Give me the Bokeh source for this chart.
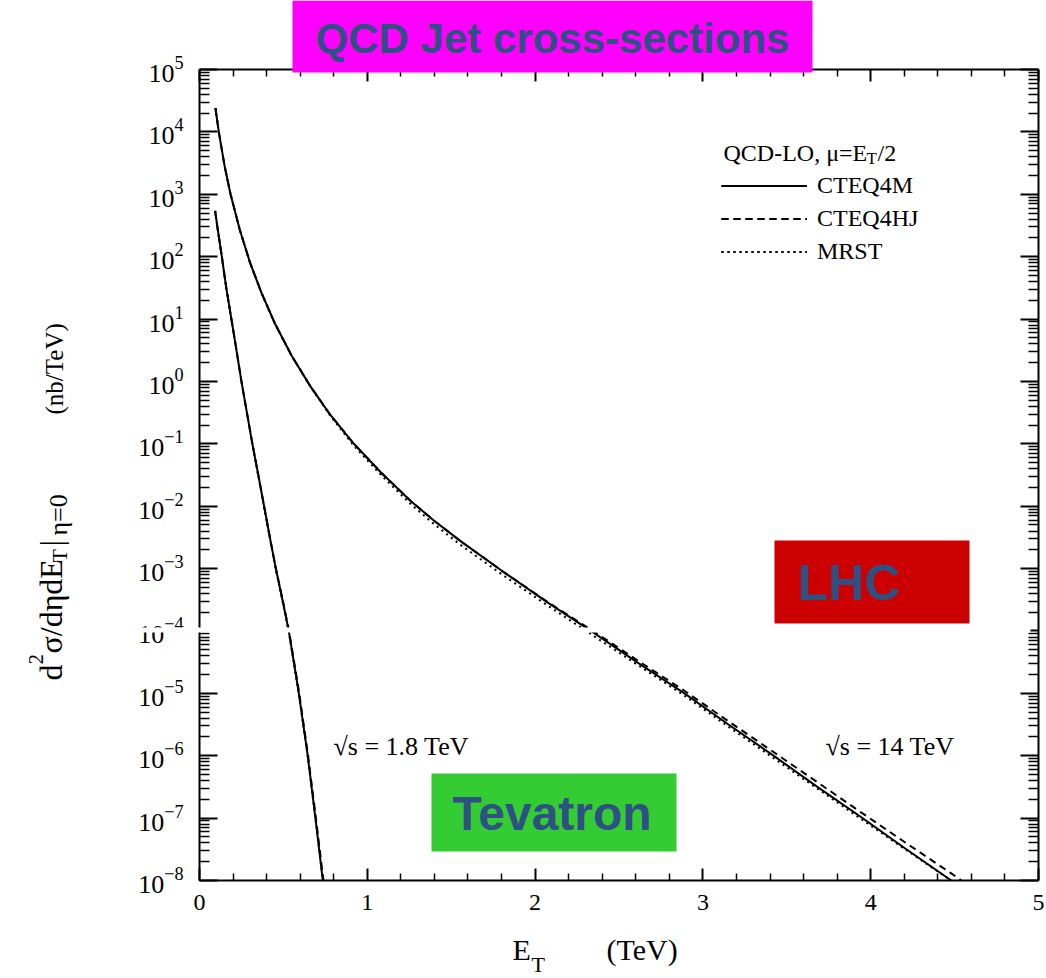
import math
from bokeh.plotting import figure
from bokeh.models import (FixedTicker, LinearAxis, LogAxis, Label, BoxAnnotation,
                          Legend, LegendItem, CustomJSTickFormatter, Range1d)
from bokeh.embed import file_html
from bokeh.resources import INLINE

# ---------------- data ----------------
lhc_et = [0.095, 0.115, 0.15, 0.185, 0.24, 0.30, 0.37, 0.45, 0.55, 0.66, 0.78, 0.92,
          1.08, 1.26, 1.40, 1.56, 1.81, 2.08, 2.35, 2.62, 2.89, 3.15, 3.41, 3.68, 3.94,
          4.21, 4.48]
lhc_cteq4m = [2.4e4, 1.0e4, 2.8e3, 1.0e3, 2.7e2, 8.2e1, 2.6e1, 8.4, 2.55, 8.4e-1,
              2.9e-1, 1.0e-1, 3.5e-2, 1.2e-2, 5.8e-3, 2.7e-3, 8.9e-4, 2.8e-4, 9.3e-5,
              3.0e-5, 1.0e-5, 3.2e-6, 1.05e-6, 3.2e-7, 1.05e-7, 3.2e-8, 1.0e-8]
lhc_et_hj = lhc_et + [4.54]
lhc_cteq4hj = [2.4e4, 1.0e4, 2.8e3, 1.0e3, 2.7e2, 8.2e1, 2.6e1, 8.4, 2.55, 8.4e-1,
               2.9e-1, 1.0e-1, 3.5e-2, 1.2e-2, 5.8e-3, 2.7e-3, 8.9e-4, 2.85e-4, 9.8e-5,
               3.25e-5, 1.1e-5, 3.6e-6, 1.2e-6, 3.8e-7, 1.25e-7, 4.0e-8, 1.3e-8, 1.0e-8]
lhc_mrst = [2.4e4, 1.0e4, 2.8e3, 1.0e3, 2.7e2, 8.2e1, 2.6e1, 8.4, 2.55, 8.4e-1,
            2.8e-1, 9.3e-2, 3.2e-2, 1.07e-2, 5.1e-3, 2.35e-3, 7.8e-4, 2.5e-4, 8.3e-5,
            2.75e-5, 9.2e-6, 2.95e-6, 9.6e-7, 3.0e-7, 9.8e-8, 3.1e-8, 1.0e-8]

tev_et = [0.093, 0.11, 0.133, 0.16, 0.19, 0.22, 0.25, 0.283, 0.315, 0.35, 0.385, 0.42,
          0.455, 0.495, 0.532, 0.562, 0.592, 0.645, 0.691, 0.735]
tev_cteq4m = [5.4e2, 2.6e2, 1.0e2, 3.1e1, 1.0e1, 3.2, 1.0, 3.1e-1, 1.0e-1, 3.2e-2, 1.0e-2,
              3.1e-3, 1.0e-3, 3.1e-4, 1.0e-4, 3.2e-5, 1.0e-5, 1.0e-6, 1.0e-7, 1.0e-8]
tev_et_hj = tev_et + [0.739]
tev_cteq4hj = [5.4e2, 2.6e2, 1.0e2, 3.1e1, 1.0e1, 3.2, 1.0, 3.1e-1, 1.0e-1, 3.2e-2, 1.0e-2,
               3.1e-3, 1.0e-3, 3.2e-4, 1.05e-4, 3.4e-5, 1.1e-5, 1.1e-6, 1.15e-7, 1.2e-8,
               1.0e-8]
tev_mrst = [5.4e2, 2.6e2, 1.0e2, 3.1e1, 1.0e1, 3.2, 1.0, 3.1e-1, 1.0e-1, 3.1e-2, 9.6e-3,
            3.0e-3, 9.6e-4, 3.0e-4, 9.7e-5, 3.1e-5, 9.7e-6, 9.8e-7, 9.8e-8, 1.0e-8]

series_names = ["CTEQ4M", "CTEQ4HJ", "MRST"]
x_major = [0, 1, 2, 3, 4, 5]
x_minor = [0.2, 0.4, 0.6, 0.8, 1.2, 1.4, 1.6, 1.8, 2.2, 2.4, 2.6, 2.8, 3.2, 3.4, 3.6,
           3.8, 4.2, 4.4, 4.6, 4.8]
y_exponents = list(range(-8, 6))
y_major = [10.0 ** e for e in y_exponents]
y_minor = [m * 10.0 ** e for e in range(-8, 5) for m in range(2, 10)]

# ---------------- layout constants ----------------
W, H = 1046, 978
FL, FR, FT, FB = 199, 1038, 69, 880          # plot box edges in page pixels
XMIN, XMAX, YEMIN, YEMAX = 0.0, 5.0, -8, 5
SERIF = "Liberation Serif"
SANS = "Liberation Sans"
BLUE = "#2F5082"


def dx(px):
    return XMIN + (px - FL) / (FR - FL) * (XMAX - XMIN)


def dy(py):
    return 10 ** (YEMAX - (py - FT) / (FB - FT) * (YEMAX - YEMIN))


# The frame covers the whole page; the axes are pinned to the plot box.
p = figure(width=W, height=H, y_axis_type="log",
           x_range=Range1d(dx(0), dx(W)), y_range=Range1d(dy(H), dy(0)),
           output_backend="svg", toolbar_location=None,
           x_axis_location=None, y_axis_location=None,
           min_border=0, min_border_left=0, min_border_right=0,
           min_border_top=0, min_border_bottom=0)
p.background_fill_color = "white"
p.border_fill_color = "white"
p.outline_line_color = None
p.xgrid.visible = False
p.ygrid.visible = False

xt = FixedTicker(ticks=x_major, minor_ticks=x_minor)
yt = FixedTicker(ticks=y_major, minor_ticks=y_minor)
blank = CustomJSTickFormatter(code="return ''")


def style_axis(ax, major_len, minor_len):
    ax.axis_line_width = 2
    ax.axis_line_color = "black"
    ax.major_tick_in = major_len
    ax.major_tick_out = 0
    ax.minor_tick_in = minor_len
    ax.minor_tick_out = 0
    ax.major_tick_line_width = 2
    ax.minor_tick_line_width = 1.5
    ax.major_label_text_font = SERIF
    ax.major_label_text_color = "black"


bottom = LinearAxis(ticker=xt, bounds=(XMIN, XMAX), fixed_location=10.0 ** YEMIN,
                    major_label_text_font_size="24px", major_label_standoff=14)
style_axis(bottom, 12, 7)
p.add_layout(bottom, "below")

top = LinearAxis(ticker=xt, bounds=(XMIN, XMAX), fixed_location=10.0 ** YEMAX,
                 formatter=blank, major_label_standoff=0)
style_axis(top, 12, 7)
p.add_layout(top, "above")

left = LogAxis(ticker=yt, bounds=(10.0 ** YEMIN, 10.0 ** YEMAX), fixed_location=XMIN,
               major_label_text_font_size="26px", major_label_standoff=16)
style_axis(left, 18, 10)
p.add_layout(left, "left")

right = LogAxis(ticker=yt, bounds=(10.0 ** YEMIN, 10.0 ** YEMAX), fixed_location=XMAX,
                formatter=blank, major_label_standoff=0)
style_axis(right, 18, 10)
p.add_layout(right, "right")

# ---------------- curves ----------------
dash_of = {"CTEQ4M": "solid", "CTEQ4HJ": "7 5", "MRST": "2 4"}
lhc_sets = {"CTEQ4M": (lhc_et, lhc_cteq4m), "CTEQ4HJ": (lhc_et_hj, lhc_cteq4hj),
            "MRST": (lhc_et, lhc_mrst)}
tev_sets = {"CTEQ4M": (tev_et, tev_cteq4m), "CTEQ4HJ": (tev_et_hj, tev_cteq4hj),
            "MRST": (tev_et, tev_mrst)}
items = []
for name in series_names:
    r1 = p.line(*lhc_sets[name], line_color="black", line_width=2,
                line_dash=dash_of[name])
    r2 = p.line(*tev_sets[name], line_color="black", line_width=2,
                line_dash=dash_of[name])
    items.append(LegendItem(label=name, renderers=[r1, r2]))

legend = Legend(items=items, location=(721, 710), orientation="vertical",
                label_text_font=SERIF, label_text_font_size="24px",
                label_text_color="black", glyph_width=86, glyph_height=33,
                label_height=33, label_standoff=10, spacing=0, padding=0, margin=0,
                border_line_color=None, background_fill_alpha=0)
p.add_layout(legend, "center")


def lab(text, px, py, size, font=SERIF, color="black", align="left",
        baseline="alphabetic", style="normal", angle=0.0):
    p.add_layout(Label(x=dx(px), y=dy(py), text=text, text_font=font,
                       text_font_size=f"{size}px", text_color=color,
                       text_align=align, text_baseline=baseline,
                       text_font_style=style, angle=angle))


# legend title  QCD-LO, mu=E_T/2
lab("QCD-LO, \u03bc=E", 723, 152, 24)
lab("T", 866, 158, 17)
lab("/2", 877, 152, 24)

# sqrt(s) labels
lab("\u221as = 1.8 TeV", 333, 746, 26)
lab("\u221as = 14 TeV", 825, 746, 26)

# x axis label  E_T   (TeV)
lab("E", 512, 949, 30)
lab("T", 531, 964, 22)
lab("(TeV)", 606, 949, 30)

# y axis label (rotated, reads bottom to top)
R = math.pi / 2
BX = 50
lab("d", BX, 680, 32, angle=R)
lab("2", BX - 15, 664, 21, angle=R)
lab("\u03c3/d\u03b7dE", BX, 653, 32, angle=R)
lab("T", BX + 9, 562, 22, angle=R)
lab("|", BX, 546, 32, angle=R)
lab("\u03b7=0", BX + 8, 535, 26, angle=R)
lab("(nb/TeV)", BX + 4, 414, 25, angle=R)

# white strip across the picture (seam in the original scan)
p.add_layout(BoxAnnotation(left=dx(120), right=dx(1030), top=dy(627), bottom=dy(632),
                           fill_color="white", fill_alpha=1, line_color=None))


def box(l, r, t, b, color):
    p.add_layout(BoxAnnotation(left=dx(l), right=dx(r), top=dy(t), bottom=dy(b),
                               fill_color=color, fill_alpha=1, line_color=None))


box(292, 812, 0, 72, "#FF00FF")
lab("QCD Jet cross-sections", 552, 38, 42, font=SANS, color=BLUE, align="center",
    baseline="middle", style="bold")
box(774, 969, 540, 623, "#CC0000")
lab("LHC", 797, 582, 50, font=SANS, color=BLUE, baseline="middle", style="bold")
box(431, 676, 773, 851, "#33CC33")
lab("Tevatron", 452, 813, 48, font=SANS, color=BLUE, baseline="middle", style="bold")

open("out.html", "w").write(file_html(p, INLINE))
